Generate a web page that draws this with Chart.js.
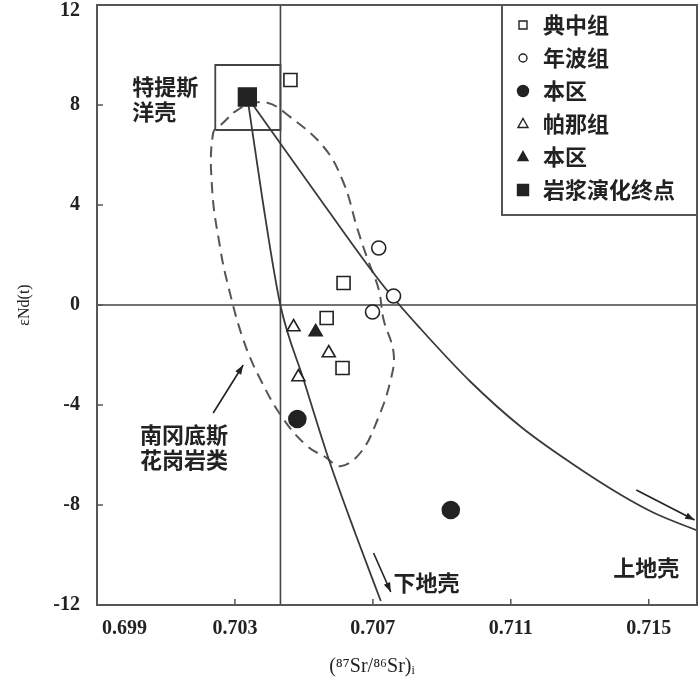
<!DOCTYPE html>
<html>
<head>
<meta charset="utf-8">
<script src="https://cdn.jsdelivr.net/npm/chart.js@4.4.1/dist/chart.umd.min.js"></script>
<style>
  html, body { margin: 0; padding: 0; background: #fff; overflow: hidden; }
  #wrap { width: 700px; height: 686px; position: relative; }
  canvas { display: block; }
</style>
</head>
<body>
<div id="wrap"><canvas id="srNd"></canvas></div>
<script>
// eNd(t) vs (87Sr/86Sr)i
const xTicks = [0.699, 0.703, 0.707, 0.711, 0.715];
const yTicks = [-12, -8, -4, 0, 4, 8, 12];

const dianzhong = [
  { x: 0.70461, y: 9.0 },
  { x: 0.70615, y: 0.88 },
  { x: 0.70566, y: -0.52 },
  { x: 0.70612, y: -2.52 },
];
const nianbo = [
  { x: 0.70717, y: 2.28 },
  { x: 0.70699, y: -0.28 },
  { x: 0.70760, y: 0.36 },
];
const localCircles = [
  { x: 0.70481, y: -4.56 },
  { x: 0.70926, y: -8.2 },
];
const pana = [
  { x: 0.70470, y: -0.88 },
  { x: 0.70572, y: -1.92 },
  { x: 0.70484, y: -2.88 },
];
const localTriangles = [
  { x: 0.70534, y: -1.08 },
];
const endPoint = [
  { x: 0.70336, y: 8.32 },
];

// mixing curves from the end point
const lowerCrust = [
  { x: 0.70336, y: 8.32 },
  { x: 0.70380, y: 4.21 },
  { x: 0.70432, y: -0.02 },
  { x: 0.70499, y: -2.98 },
  { x: 0.70572, y: -6.17 },
  { x: 0.70650, y: -9.17 },
  { x: 0.70723, y: -11.84 },
];
const upperCrust = [
  { x: 0.70336, y: 8.32 },
  { x: 0.70557, y: 4.04 },
  { x: 0.70731, y: 0.76 },
  { x: 0.70839, y: -0.96 },
  { x: 0.70984, y: -3.08 },
  { x: 0.71130, y: -4.88 },
  { x: 0.71275, y: -6.32 },
  { x: 0.71420, y: -7.60 },
  { x: 0.71516, y: -8.32 },
  { x: 0.71644, y: -9.04 },
];

// southern Gangdese granitoid field (closed)
const graniteField = [
  { x: 0.70295, y: 7.69 },
  { x: 0.70336, y: 8.01 },
  { x: 0.70394, y: 8.09 },
  { x: 0.70452, y: 7.61 },
  { x: 0.70557, y: 6.33 },
  { x: 0.70615, y: 4.89 },
  { x: 0.70656, y: 3.01 },
  { x: 0.70685, y: 1.82 },
  { x: 0.70717, y: 0.62 },
  { x: 0.70731, y: -0.58 },
  { x: 0.70760, y: -1.90 },
  { x: 0.70752, y: -2.98 },
  { x: 0.70714, y: -4.57 },
  { x: 0.70665, y: -5.89 },
  { x: 0.70606, y: -6.45 },
  { x: 0.70563, y: -6.09 },
  { x: 0.70510, y: -5.65 },
  { x: 0.70441, y: -4.57 },
  { x: 0.70374, y: -2.98 },
  { x: 0.70324, y: -1.38 },
  { x: 0.70278, y: 0.90 },
  { x: 0.70258, y: 2.22 },
  { x: 0.70234, y: 4.61 },
  { x: 0.70237, y: 6.89 },
  { x: 0.70266, y: 7.29 },
  { x: 0.70295, y: 7.69 },
];

// Tethys oceanic crust box
const tethysBox = [
  { x: 0.70243, y: 7.0 },
  { x: 0.70243, y: 9.6 },
  { x: 0.70432, y: 9.6 },
  { x: 0.70432, y: 7.0 },
  { x: 0.70243, y: 7.0 },
];

const zeroLine = [{ x: 0.699, y: 0 }, { x: 0.7164, y: 0 }];
const bulkEarthLine = [{ x: 0.70432, y: -12 }, { x: 0.70432, y: 12 }];

const notes = [
  { lines: ["特提斯", "洋壳"], x: 0.70002, y: 8.72 },
  { lines: ["南冈底斯", "花岗岩类"], x: 0.70025, y: -5.2 },
  { lines: ["下地壳"], x: 0.70760, y: -11.12 },
  { lines: ["上地壳"], x: 0.71397, y: -10.52 },
];
const arrows = [
  { x1: 0.70237, y1: -4.32, x2: 0.70324, y2: -2.4 },
  { x1: 0.70702, y1: -9.92, x2: 0.70752, y2: -11.48 },
  { x1: 0.71464, y1: -7.4, x2: 0.71633, y2: -8.6 },
];

const ink = "#222";
const lineGray = "#3a3a3a";
const serif = "'Liberation Serif', 'DejaVu Serif', serif";
const cjk = "'Noto Sans CJK SC', sans-serif";

function marker(label, data, style, radius, filled) {
  return {
    label: label,
    data: data,
    inLegend: true,
    pointStyle: style,
    pointRadius: radius,
    pointHoverRadius: radius,
    backgroundColor: filled ? ink : "#fff",
    borderColor: ink,
    borderWidth: 1.6,
    showLine: false,
  };
}

function curve(label, data, opts) {
  return Object.assign({
    label: label,
    data: data,
    showLine: true,
    pointRadius: 0,
    pointHoverRadius: 0,
    borderColor: lineGray,
    borderWidth: 1.8,
    fill: false,
    tension: 0,
  }, opts || {});
}

function drawMarker(ctx, style, x, y, r, filled) {
  ctx.save();
  ctx.beginPath();
  if (style === "rect") {
    ctx.rect(x - r, y - r, 2 * r, 2 * r);
  } else if (style === "triangle") {
    ctx.moveTo(x, y - r * 1.1);
    ctx.lineTo(x + r, y + r * 0.7);
    ctx.lineTo(x - r, y + r * 0.7);
    ctx.closePath();
  } else {
    ctx.arc(x, y, r, 0, Math.PI * 2);
  }
  ctx.fillStyle = filled ? ink : "#fff";
  ctx.fill();
  ctx.lineWidth = 1.4;
  ctx.strokeStyle = ink;
  ctx.stroke();
  ctx.restore();
}

const framePlugin = {
  id: "frame",
  afterDatasetsDraw(chart) {
    const { ctx, chartArea: a, scales } = chart;
    ctx.save();
    ctx.strokeStyle = "#555";
    ctx.lineWidth = 2;
    ctx.strokeRect(a.left, a.top, a.right - a.left, a.bottom - a.top);
    ctx.lineWidth = 1.5;
    ctx.beginPath();
    xTicks.slice(1).forEach(v => {
      const px = scales.x.getPixelForValue(v);
      ctx.moveTo(px, a.bottom);
      ctx.lineTo(px, a.bottom - 6);
    });
    yTicks.slice(1, -1).forEach(v => {
      const py = scales.y.getPixelForValue(v);
      ctx.moveTo(a.left, py);
      ctx.lineTo(a.left + 6, py);
    });
    ctx.stroke();

    // labels on the diagram
    ctx.fillStyle = ink;
    ctx.font = "bold 22px " + cjk;
    ctx.textAlign = "left";
    ctx.textBaseline = "middle";
    notes.forEach(n => {
      const px = scales.x.getPixelForValue(n.x);
      const py = scales.y.getPixelForValue(n.y);
      n.lines.forEach((t, i) => ctx.fillText(t, px, py + i * 25));
    });

    // arrows
    ctx.strokeStyle = ink;
    ctx.lineWidth = 1.6;
    arrows.forEach(ar => {
      const x1 = scales.x.getPixelForValue(ar.x1), y1 = scales.y.getPixelForValue(ar.y1);
      const x2 = scales.x.getPixelForValue(ar.x2), y2 = scales.y.getPixelForValue(ar.y2);
      const ang = Math.atan2(y2 - y1, x2 - x1);
      ctx.beginPath();
      ctx.moveTo(x1, y1);
      ctx.lineTo(x2, y2);
      ctx.stroke();
      ctx.beginPath();
      ctx.moveTo(x2, y2);
      ctx.lineTo(x2 - 10 * Math.cos(ang - 0.35), y2 - 10 * Math.sin(ang - 0.35));
      ctx.lineTo(x2 - 10 * Math.cos(ang + 0.35), y2 - 10 * Math.sin(ang + 0.35));
      ctx.closePath();
      ctx.fill();
    });
    ctx.restore();
  },
};

const legendPlugin = {
  id: "boxLegend",
  afterDraw(chart) {
    const { ctx, chartArea: a } = chart;
    const left = a.right - 195, top = a.top;
    ctx.save();
    ctx.fillStyle = "#fff";
    ctx.fillRect(left, top, a.right - left, 210);
    ctx.strokeStyle = "#555";
    ctx.lineWidth = 2;
    ctx.strokeRect(left, top, a.right - left, 210);
    const sizes = { rect: 4, circle: 4, triangle: 5 };
    let row = 0;
    chart.data.datasets.forEach(ds => {
      if (!ds.inLegend) return;
      const filled = ds.backgroundColor === ink;
      const y = top + 20 + row * 33;
      let r = sizes[ds.pointStyle] || 4;
      if (filled && ds.pointStyle !== "triangle") r += 1.5;
      drawMarker(ctx, ds.pointStyle, left + 21, y, r, filled);
      ctx.fillStyle = ink;
      ctx.font = "bold 22px " + cjk;
      ctx.textAlign = "left";
      ctx.textBaseline = "middle";
      ctx.fillText(ds.label, left + 41, y);
      row++;
    });
    ctx.restore();
  },
};

new Chart(document.getElementById("srNd"), {
  type: "scatter",
  data: {
    datasets: [
      marker("典中组", dianzhong, "rect", 9.2, false),
      marker("年波组", nianbo, "circle", 7, false),
      marker("本区", localCircles, "circle", 8.5, true),
      marker("帕那组", pana, "triangle", 7.5, false),
      marker("本区", localTriangles, "triangle", 7.5, true),
      marker("岩浆演化终点", endPoint, "rect", 12.5, true),
      curve("lower crust", lowerCrust, { tension: 0.3, cubicInterpolationMode: "monotone" }),
      curve("upper crust", upperCrust, { tension: 0.3, cubicInterpolationMode: "monotone" }),
      curve("granite field", graniteField, { tension: 0.4, borderDash: [11, 7], borderColor: "#555", borderWidth: 2 }),
      curve("Tethys box", tethysBox, { borderColor: "#444", borderWidth: 1.8 }),
      curve("zero", zeroLine, { borderColor: "#444", borderWidth: 1.6 }),
      curve("bulk earth", bulkEarthLine, { borderColor: "#444", borderWidth: 1.6 }),
    ],
  },
  options: {
    responsive: true,
    maintainAspectRatio: false,
    animation: false,
    layout: { autoPadding: false, padding: { top: 5, right: 3, left: 0, bottom: 0 } },
    plugins: {
      legend: { display: false },
      tooltip: { enabled: false },
    },
    scales: {
      x: {
        type: "linear",
        min: 0.699,
        max: 0.7164,
        afterBuildTicks: s => { s.ticks = xTicks.map(v => ({ value: v })); },
        afterFit: s => { s.height = 81; s.paddingLeft = 0; s.paddingRight = 0; },
        grid: { display: false, drawTicks: false },
        border: { display: false },
        ticks: {
          autoSkip: false,
          maxRotation: 0,
          padding: 12,
          color: ink,
          font: { family: serif, size: 20, weight: "bold" },
          callback: v => (v === 0.699 ? " ".repeat(11) + "0.699" : v.toFixed(3)),
        },
        title: {
          display: true,
          text: "(⁸⁷Sr/⁸⁶Sr)ᵢ" + " ".repeat(10),
          color: ink,
          font: { family: serif, size: 20 },
          padding: { top: 0, bottom: 7 },
        },
      },
      y: {
        min: -12,
        max: 12,
        afterBuildTicks: s => { s.ticks = yTicks.map(v => ({ value: v })); },
        afterFit: s => { s.width = 97; s.paddingTop = 0; s.paddingBottom = 0; },
        grid: { display: false, drawTicks: false },
        border: { display: false },
        ticks: {
          padding: 17,
          color: ink,
          font: { family: serif, size: 20, weight: "bold", lineHeight: 0.6 },
          // top label sits a little lower, as in the source figure
          callback: v => (v === 12 ? ["", "12"] : String(v)),
        },
        title: {
          display: true,
          text: "εNd(t)",
          color: ink,
          font: { family: serif, size: 16 },
          padding: { top: 15, bottom: 0 },
        },
      },
    },
  },
  plugins: [framePlugin, legendPlugin],
});
</script>
</body>
</html>
